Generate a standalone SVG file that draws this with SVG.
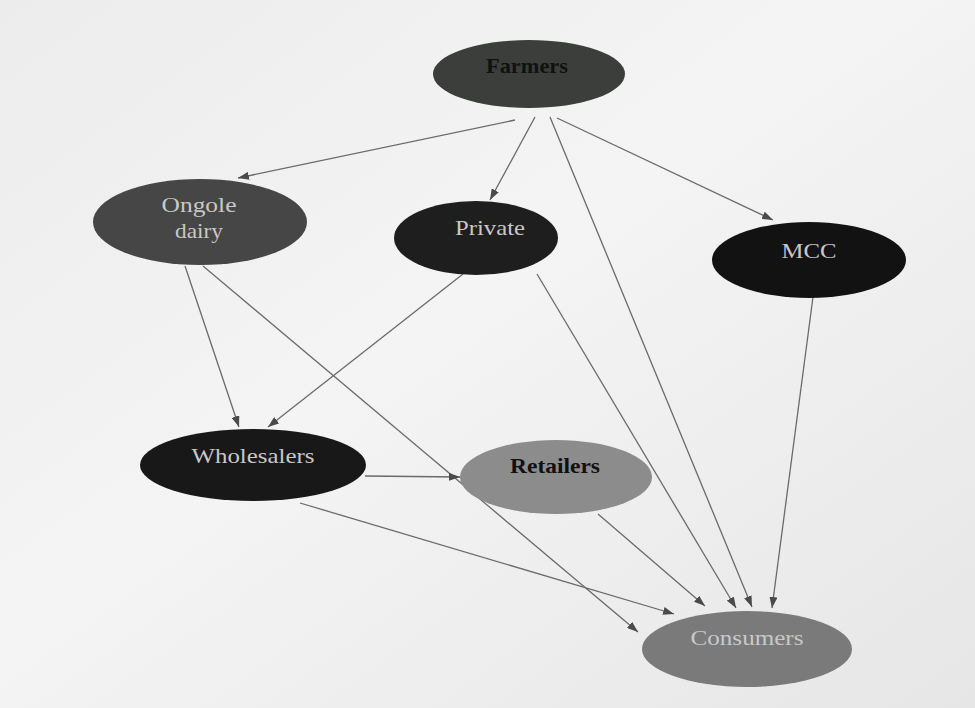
<svg xmlns="http://www.w3.org/2000/svg" width="975" height="708" viewBox="0 0 975 708">
  <defs>
    <linearGradient id="bg" x1="0" y1="0" x2="1" y2="1">
      <stop offset="0" stop-color="#ececec"/>
      <stop offset="0.45" stop-color="#f4f4f4"/>
      <stop offset="1" stop-color="#e6e6e6"/>
    </linearGradient>
    <marker id="arr" markerUnits="userSpaceOnUse" markerWidth="11" markerHeight="8" refX="11" refY="4" orient="auto">
      <path d="M0,0 L11,4 L0,8 z" fill="#4a4a4a"/>
    </marker>
  </defs>
  <style>
    .edge { stroke: #6a6a6a; stroke-width: 1.3; fill: none; marker-end: url(#arr); }
    .lbl { font-family: "Liberation Serif", "Times New Roman", serif; font-size: 21px; text-anchor: middle; }
    .light { fill: #c8c8c8; }
    .dark { fill: #111111; font-weight: bold; }
  </style>
  <rect x="0" y="0" width="975" height="708" fill="url(#bg)"/>

  <g id="connectors">
    <line class="edge" x1="515" y1="120" x2="238" y2="178"/>
    <line class="edge" x1="535" y1="117" x2="490" y2="200"/>
    <line class="edge" x1="557" y1="118" x2="773" y2="220"/>
    <line class="edge" x1="550" y1="117" x2="752" y2="607"/>
    <line class="edge" x1="185" y1="266" x2="239" y2="427"/>
    <line class="edge" x1="203" y1="266" x2="638" y2="632"/>
    <line class="edge" x1="463" y1="274" x2="268" y2="427"/>
    <line class="edge" x1="537" y1="274" x2="736" y2="608"/>
    <line class="edge" x1="813" y1="297" x2="772" y2="608"/>
    <line class="edge" x1="365" y1="476" x2="460" y2="477"/>
    <line class="edge" x1="300" y1="503" x2="674" y2="614"/>
    <line class="edge" x1="598" y1="514" x2="705" y2="606"/>
  </g>

  <g id="farmers">
    <ellipse cx="529" cy="74" rx="96" ry="34" fill="#3b3e3b"/>
    <text class="lbl dark" x="527" y="73" textLength="82" lengthAdjust="spacingAndGlyphs">Farmers</text>
  </g>
  <g id="ongole-dairy">
    <ellipse cx="200" cy="222" rx="107" ry="43" fill="#464646"/>
    <text class="lbl light" x="199" y="212" textLength="75" lengthAdjust="spacingAndGlyphs">Ongole</text>
    <text class="lbl light" x="199" y="238" textLength="48" lengthAdjust="spacingAndGlyphs">dairy</text>
  </g>
  <g id="private">
    <ellipse cx="476" cy="238" rx="82" ry="37" fill="#1e1e1e"/>
    <text class="lbl light" x="490" y="235" textLength="70" lengthAdjust="spacingAndGlyphs">Private</text>
  </g>
  <g id="mcc">
    <ellipse cx="809" cy="260" rx="97" ry="38" fill="#121212"/>
    <text class="lbl light" x="809" y="258" textLength="55" lengthAdjust="spacingAndGlyphs">MCC</text>
  </g>
  <g id="wholesalers">
    <ellipse cx="253" cy="465" rx="113" ry="36" fill="#181818"/>
    <text class="lbl light" x="253" y="463" textLength="123" lengthAdjust="spacingAndGlyphs">Wholesalers</text>
  </g>
  <g id="retailers">
    <ellipse cx="556" cy="477" rx="96" ry="37" fill="#8c8c8c"/>
    <text class="lbl dark" x="555" y="473" textLength="90" lengthAdjust="spacingAndGlyphs">Retailers</text>
  </g>
  <g id="consumers">
    <ellipse cx="747" cy="649" rx="105" ry="38" fill="#7a7a7a"/>
    <text class="lbl light" x="747" y="645" textLength="113" lengthAdjust="spacingAndGlyphs">Consumers</text>
  </g>
</svg>
